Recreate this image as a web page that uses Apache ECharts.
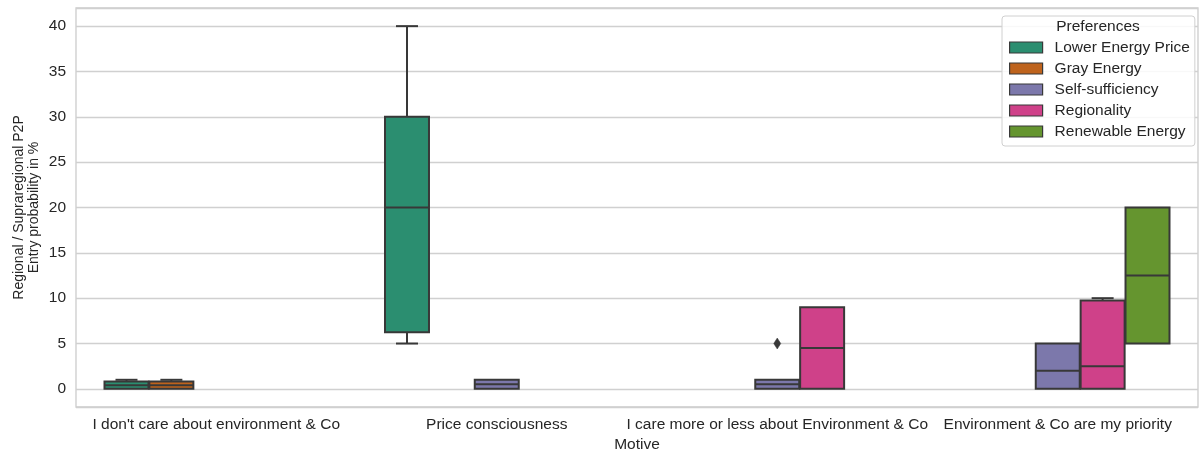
<!DOCTYPE html>
<html>
<head>
<meta charset="utf-8">
<title>Regional / Supraregional P2P entry probability by motive</title>
<script src="https://cdn.jsdelivr.net/npm/echarts@6/dist/echarts.min.js"></script>
<style>
  html, body { margin: 0; padding: 0; background: #ffffff; }
  #chart { width: 1200px; height: 454px; }
</style>
</head>
<body>
<div id="chart"></div>
<script>
// Motive categories on the x axis
const categories = [
  "I don't care about environment & Co",
  'Price consciousness',
  'I care more or less about Environment & Co',
  'Environment & Co are my priority'
];

// Preference groups (hue), in legend order
const preferences = [
  'Lower Energy Price',
  'Gray Energy',
  'Self-sufficiency',
  'Regionality',
  'Renewable Energy'
];

// Box statistics per motive: [lower whisker, Q1, median, Q3, upper whisker]; null = no box
const lowerEnergyPrice = [[0, 0, 0.4, 0.8, 1], [5, 6.25, 20, 30, 40], null, null];
const grayEnergy       = [[0, 0, 0.4, 0.8, 1], null, null, null];
const selfSufficiency  = [null, [0, 0, 0.5, 1, 1], [0, 0, 0.5, 1, 1], [0, 0, 2, 5, 5]];
const regionality      = [null, null, [0, 0, 4.5, 9, 9], [0, 0, 2.5, 9.75, 10]];
const renewableEnergy  = [null, null, null, [5, 5, 12.5, 20, 20]];

// Outliers: [motive index, preference index, value]
const outliers = [[2, 2, 5]];

// Y axis ticks
const yTicks = [0, 5, 10, 15, 20, 25, 30, 35, 40];

const boxStats = [lowerEnergyPrice, grayEnergy, selfSufficiency, regionality, renewableEnergy];

// Dark2 palette, desaturated to 75 %
const fills = ['#2b8e70', '#be631d', '#7c78ab', '#cf4189', '#65952f'];
const edge = '#383838';
const font = "'Liberation Sans', Arial, Helvetica, sans-serif";
const textColor = '#262626';
const fontSize = 15.5;
const GROUP_WIDTH = 0.8;

function slotCenter(api, cat, hue) {
  const c = api.coord([cat, 0]);
  const band = api.size([1, 0])[0];
  const slot = band * GROUP_WIDTH / preferences.length;
  return { cx: c[0] + (hue - (preferences.length - 1) / 2) * slot, slot: slot };
}

function boxRenderer(hue) {
  return function (params, api) {
    const cat = api.value(0);
    const lo = api.value(1), q1 = api.value(2), med = api.value(3), q3 = api.value(4), hi = api.value(5);
    const s = slotCenter(api, cat, hue);
    const w = s.slot * 0.98;
    const capW = w * 0.5;
    const py = v => api.coord([cat, v])[1];
    const stroke = { stroke: edge, lineWidth: 2, fill: null };
    const children = [];
    // whiskers
    if (hi > q3) {
      children.push({ type: 'line', shape: { x1: s.cx, y1: py(q3), x2: s.cx, y2: py(hi) }, style: stroke });
      children.push({ type: 'line', shape: { x1: s.cx - capW / 2, y1: py(hi), x2: s.cx + capW / 2, y2: py(hi) }, style: stroke });
    }
    if (lo < q1) {
      children.push({ type: 'line', shape: { x1: s.cx, y1: py(q1), x2: s.cx, y2: py(lo) }, style: stroke });
      children.push({ type: 'line', shape: { x1: s.cx - capW / 2, y1: py(lo), x2: s.cx + capW / 2, y2: py(lo) }, style: stroke });
    }
    // box and median
    const top = py(q3), bottom = py(q1);
    children.push({
      type: 'rect',
      shape: { x: s.cx - w / 2, y: top, width: w, height: bottom - top },
      style: { fill: fills[hue], stroke: edge, lineWidth: 2 }
    });
    children.push({ type: 'line', shape: { x1: s.cx - w / 2, y1: py(med), x2: s.cx + w / 2, y2: py(med) }, style: stroke });
    return { type: 'group', children: children };
  };
}

// thin diamond marker for outliers
function outlierRenderer(params, api) {
  const cat = api.value(0), hue = api.value(1), v = api.value(2);
  const s = slotCenter(api, cat, hue);
  const y = api.coord([cat, v])[1];
  const hw = 3.5, hh = 5.5;
  return {
    type: 'polygon',
    shape: { points: [[s.cx, y - hh], [s.cx + hw, y], [s.cx, y + hh], [s.cx - hw, y]] },
    style: { fill: edge, stroke: edge, lineWidth: 0.5 }
  };
}

const series = preferences.map((name, hue) => ({
  name: name,
  type: 'custom',
  renderItem: boxRenderer(hue),
  itemStyle: { color: fills[hue] },
  encode: { x: 0, y: [1, 2, 3, 4, 5] },
  data: boxStats[hue].map((s, i) => s ? [i].concat(s) : null).filter(Boolean),
  z: 3
}));

series.push({
  name: 'outliers',
  type: 'custom',
  renderItem: outlierRenderer,
  encode: { x: 0, y: 2 },
  data: outliers,
  z: 4
});

const chart = echarts.init(document.getElementById('chart'), null, { renderer: 'canvas' });

chart.setOption({
  animation: false,
  backgroundColor: '#ffffff',
  textStyle: { fontFamily: font },
  grid: {
    left: 76, right: 2, top: 8, bottom: 47,
    containLabel: false,
    outerBoundsMode: 'none',
    show: true, borderColor: '#cccccc', borderWidth: 1.3, backgroundColor: '#ffffff'
  },
  xAxis: {
    type: 'category',
    data: categories,
    boundaryGap: true,
    axisLine: { show: false },
    axisTick: { show: false },
    splitLine: { show: false },
    axisLabel: { color: textColor, fontSize: fontSize, fontFamily: font, margin: 10, interval: 0 },
    name: 'Motive',
    nameLocation: 'middle',
    nameGap: 30,
    nameMoveOverlap: false,
    nameTextStyle: { color: textColor, fontSize: fontSize, fontFamily: font }
  },
  yAxis: {
    type: 'value',
    min: -2,
    max: 42,
    splitNumber: 9,
    axisLine: { show: false },
    axisTick: { show: false },
    splitLine: { show: true, lineStyle: { color: '#d0d0d0', width: 1.3 } },
    axisLabel: {
      color: textColor, fontSize: fontSize, fontFamily: font, margin: 10,
      showMinLabel: false, showMaxLabel: false,
      formatter: v => yTicks.indexOf(v) >= 0 ? String(v) : ''
    },
    name: 'Regional / Supraregional P2P\nEntry probability in %',
    nameLocation: 'middle',
    nameGap: 34,
    nameMoveOverlap: false,
    nameTextStyle: { color: textColor, fontSize: 14, fontFamily: font, lineHeight: 15 }
  },
  legend: {
    data: preferences,
    orient: 'vertical',
    left: 1002,
    top: 16,
    padding: [23, 5, 6, 7],
    itemWidth: 33,
    itemHeight: 11,
    itemGap: 4,
    icon: 'rect',
    itemStyle: { borderColor: edge, borderWidth: 1.2 },
    textStyle: { color: textColor, fontSize: fontSize, fontFamily: font, lineHeight: 17, padding: [0, 0, 0, 7] },
    backgroundColor: 'rgba(255,255,255,0.85)',
    borderColor: '#d0d0d0',
    borderWidth: 1,
    borderRadius: 3,
    selectedMode: false
  },
  graphic: [{
    type: 'text',
    x: 1098,
    y: 27,
    z: 100,
    style: {
      text: 'Preferences', fill: textColor, font: fontSize + 'px ' + font,
      textAlign: 'center', textVerticalAlign: 'middle'
    }
  }],
  series: series
});
</script>
</body>
</html>
